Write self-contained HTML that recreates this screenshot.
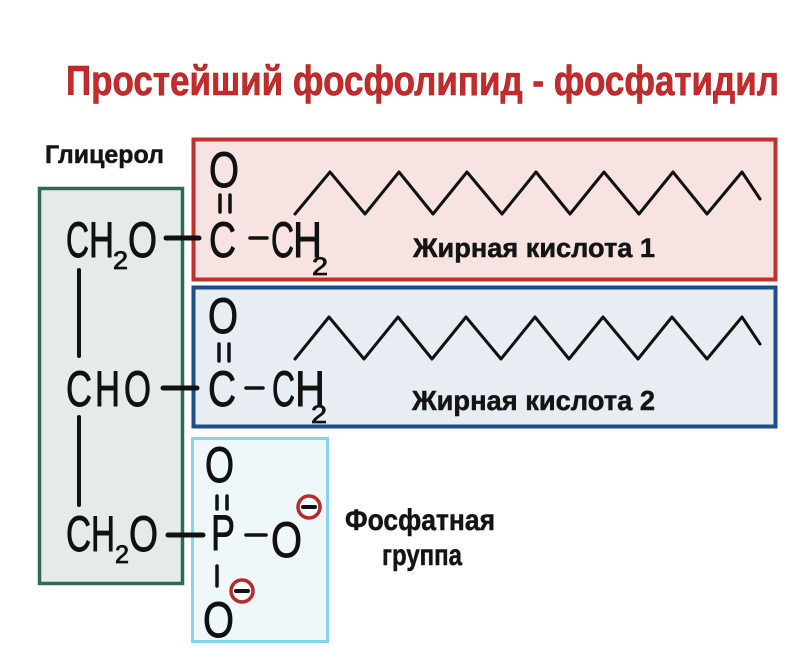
<!DOCTYPE html>
<html><head><meta charset="utf-8">
<style>
html,body{margin:0;padding:0;background:#fff;}
svg{display:block;}
.ch{font-family:"Liberation Sans",sans-serif;font-size:50px;fill:#111;stroke:#111;stroke-width:0.9px;}
.sub{font-family:"Liberation Sans",sans-serif;font-size:25px;fill:#111;stroke:#111;stroke-width:0.8px;}
.lb{font-family:"Liberation Sans","DejaVu Sans",sans-serif;font-weight:bold;fill:#141414;stroke:#141414;stroke-width:0.5px;}
</style></head>
<body>
<svg width="800" height="648" viewBox="0 0 800 648" xmlns="http://www.w3.org/2000/svg">
<rect width="800" height="648" fill="#fff"/>
<!-- Title -->
<text x="66" y="95" font-family="Liberation Sans, sans-serif" font-weight="bold" font-size="42" fill="#c62a2a" stroke="#9a1e1e" stroke-width="0.6" textLength="713" lengthAdjust="spacingAndGlyphs">Простейший фосфолипид - фосфатидил</text>

<!-- Boxes -->
<rect x="39.5" y="188.5" width="143" height="395" fill="#e4ebe9" stroke="#2e6a53" stroke-width="3.5"/>
<rect x="193.5" y="139.5" width="582" height="140" fill="#f8e3e3" stroke="#c1302c" stroke-width="4"/>
<rect x="193.5" y="287.5" width="582" height="139" fill="#e8ecf3" stroke="#1e4d8c" stroke-width="4"/>
<rect x="192.5" y="438.5" width="135" height="203" fill="#eef7fa" stroke="#85d3ee" stroke-width="3"/>

<!-- Labels -->
<text class="lb" x="45" y="163" font-size="25" textLength="119" lengthAdjust="spacingAndGlyphs">Глицерол</text>
<text class="lb" x="413" y="257" font-size="27" textLength="242" lengthAdjust="spacingAndGlyphs">Жирная кислота 1</text>
<text class="lb" x="412" y="410" font-size="28" textLength="243" lengthAdjust="spacingAndGlyphs">Жирная кислота 2</text>
<text class="lb" x="345" y="530" font-size="30" textLength="150" lengthAdjust="spacingAndGlyphs">Фосфатная</text>
<text class="lb" x="382" y="565" font-size="30" textLength="80" lengthAdjust="spacingAndGlyphs">группа</text>

<!-- Chains -->
<g fill="none" stroke="#111" stroke-width="3" stroke-linejoin="round" stroke-linecap="round">
<polyline points="295,214 330,172 365,214 399,172 433,214 467,172 502,214 536,172 570,214 604,172 639,214 673,172 707,214 742,172 760,199"/>
<polyline points="295,359 329,317 364,359 398,317 432,359 466,317 501,359 535,317 569,359 603,317 638,359 672,317 707,359 742,317 760,344"/>
</g>

<!-- Bonds -->
<g stroke="#111" stroke-linecap="round" fill="none">
<line x1="79" y1="270" x2="79" y2="356" stroke-width="4"/>
<line x1="79" y1="417" x2="79" y2="505" stroke-width="4"/>
<line x1="166" y1="238" x2="199" y2="238" stroke-width="5"/>
<line x1="163" y1="388" x2="197" y2="388" stroke-width="5"/>
<line x1="168" y1="535" x2="203" y2="535" stroke-width="5"/>
<!-- row1 carbonyl -->
<line x1="220" y1="195" x2="220" y2="212" stroke-width="3.5"/>
<line x1="230" y1="195" x2="230" y2="212" stroke-width="3.5"/>
<line x1="250" y1="238" x2="267" y2="238" stroke-width="3.5"/>
<!-- row2 carbonyl -->
<line x1="219" y1="344" x2="219" y2="361" stroke-width="3.5"/>
<line x1="229" y1="344" x2="229" y2="361" stroke-width="3.5"/>
<line x1="246" y1="388" x2="263" y2="388" stroke-width="3.5"/>
<!-- phosphate -->
<line x1="217" y1="496" x2="217" y2="509" stroke-width="3.5"/>
<line x1="227" y1="496" x2="227" y2="509" stroke-width="3.5"/>
<line x1="246" y1="535" x2="266" y2="535" stroke-width="3.5"/>
<line x1="217" y1="566" x2="217" y2="586" stroke-width="3.5"/>
</g>

<!-- Row 1 -->
<text class="ch" x="66" y="257" textLength="23" lengthAdjust="spacingAndGlyphs">C</text>
<text class="ch" x="89" y="257" textLength="25" lengthAdjust="spacingAndGlyphs">H</text>
<text class="sub" x="113" y="269" textLength="15" lengthAdjust="spacingAndGlyphs">2</text>
<text class="ch" x="128" y="257" textLength="29" lengthAdjust="spacingAndGlyphs">O</text>
<text class="ch" x="209" y="187" textLength="30" lengthAdjust="spacingAndGlyphs">O</text>
<text class="ch" x="209" y="257" textLength="27" lengthAdjust="spacingAndGlyphs">C</text>
<text class="ch" x="271" y="257" textLength="23" lengthAdjust="spacingAndGlyphs">C</text>
<text class="ch" x="293" y="257" textLength="29" lengthAdjust="spacingAndGlyphs">H</text>
<text class="sub" x="312" y="275" textLength="16" lengthAdjust="spacingAndGlyphs">2</text>

<!-- Row 2 -->
<text class="ch" x="66" y="406" textLength="26" lengthAdjust="spacingAndGlyphs">C</text>
<text class="ch" x="95" y="406" textLength="25" lengthAdjust="spacingAndGlyphs">H</text>
<text class="ch" x="124" y="406" textLength="27" lengthAdjust="spacingAndGlyphs">O</text>
<text class="ch" x="208" y="333" textLength="30" lengthAdjust="spacingAndGlyphs">O</text>
<text class="ch" x="208" y="406" textLength="28" lengthAdjust="spacingAndGlyphs">C</text>
<text class="ch" x="272" y="406" textLength="23" lengthAdjust="spacingAndGlyphs">C</text>
<text class="ch" x="295" y="406" textLength="30" lengthAdjust="spacingAndGlyphs">H</text>
<text class="sub" x="311" y="423" textLength="16" lengthAdjust="spacingAndGlyphs">2</text>

<!-- Row 3 -->
<text class="ch" x="66" y="551" textLength="25" lengthAdjust="spacingAndGlyphs">C</text>
<text class="ch" x="91" y="551" textLength="24" lengthAdjust="spacingAndGlyphs">H</text>
<text class="sub" x="115" y="563" textLength="14" lengthAdjust="spacingAndGlyphs">2</text>
<text class="ch" x="129" y="551" textLength="29" lengthAdjust="spacingAndGlyphs">O</text>
<text class="ch" x="205" y="482" textLength="29" lengthAdjust="spacingAndGlyphs">O</text>
<text class="ch" x="211" y="550" textLength="24" lengthAdjust="spacingAndGlyphs">P</text>
<text class="ch" x="271" y="557" textLength="31" lengthAdjust="spacingAndGlyphs">O</text>
<text class="ch" x="203" y="637" textLength="31" lengthAdjust="spacingAndGlyphs">O</text>

<!-- Minus charges -->
<circle cx="309" cy="507" r="11" fill="#fff" stroke="#b52a2a" stroke-width="3.5"/>
<line x1="303" y1="507" x2="315" y2="507" stroke="#111" stroke-width="4" stroke-linecap="round"/>
<circle cx="242" cy="591" r="11" fill="#fff" stroke="#b52a2a" stroke-width="3.5"/>
<line x1="236" y1="591" x2="248" y2="591" stroke="#111" stroke-width="4" stroke-linecap="round"/>
</svg>
</body></html>
